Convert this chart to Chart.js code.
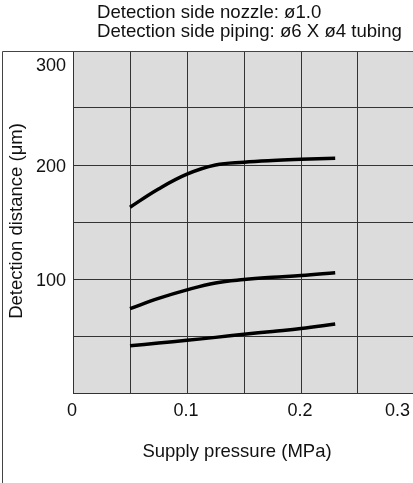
<!DOCTYPE html>
<html>
<head>
<meta charset="utf-8">
<script src="https://cdn.jsdelivr.net/npm/chart.js@4/dist/chart.umd.min.js"></script>
<style>
  html, body { margin: 0; padding: 0; overflow: hidden; background: #fff; }
  #wrap { position: relative; width: 416px; height: 483px; }
</style>
</head>
<body>
<div id="wrap"><canvas id="chart"></canvas></div>
<script>
// supply pressure (MPa) sampled along the curves
const pressure = [0.05, 0.075, 0.1, 0.125, 0.15, 0.175, 0.2, 0.23];
// detection distance (um) for the three curves, top to bottom
const upperCurve = [163, 179, 192, 200, 202.5, 204, 205, 206];
const middleCurve = [74, 83, 90.5, 96.5, 99.5, 101.5, 103, 105.5];
const lowerCurve = [41.5, 43.8, 46.2, 48.8, 51.5, 54, 56.5, 60.5];

const xTickLabels = ['0', '0.1', '0.2', '0.3'];
const yTickLabels = ['100', '200', '300'];
const headerLines = ['Detection side nozzle: \u00f81.0', 'Detection side piping: \u00f86 X \u00f84 tubing'];
const xTitle = 'Supply pressure (MPa)';
const yTitle = 'Detection distance (\u03bcm)';

const FONT = '"Liberation Sans", Arial, sans-serif';
const GRID = '#333';

function toPoints(values) {
    return pressure.map((p, i) => ({ x: p, y: values[i] }));
}

function curve(values) {
    return {
        data: toPoints(values),
        borderColor: '#000',
        borderWidth: 3.5,
        pointRadius: 0,
        fill: false,
        tension: 0.4,
        borderCapStyle: 'butt'
    };
}

// paints the grey plot background, the outer frame and all the text
const framePlugin = {
    id: 'frame',
    beforeDraw(chart) {
        const { ctx, chartArea: a } = chart;
        ctx.save();
        ctx.fillStyle = '#dcdcdc';
        ctx.fillRect(a.left, a.top, a.right - a.left, a.bottom - a.top);
        ctx.restore();
    },
    afterDraw(chart) {
        const { ctx, chartArea: a } = chart;
        const xs = chart.scales.x, ys = chart.scales.y;
        const visibleW = 413;

        ctx.save();
        ctx.strokeStyle = '#444';
        ctx.lineWidth = 1;
        ctx.beginPath();
        ctx.moveTo(2.5, a.top + 0.5);
        ctx.lineTo(chart.width, a.top + 0.5);
        ctx.moveTo(2.5, a.top + 0.5);
        ctx.lineTo(2.5, chart.height);
        ctx.stroke();

        ctx.fillStyle = '#111';
        ctx.textBaseline = 'middle';

        // header
        ctx.font = '18.6px ' + FONT;
        ctx.textAlign = 'left';
        ctx.fillText(headerLines[0], 97, 13);
        ctx.fillText(headerLines[1], 97, 32);

        // y tick labels
        ctx.font = '18px ' + FONT;
        ctx.textAlign = 'right';
        yTickLabels.forEach(t => {
            const py = Math.max(ys.getPixelForValue(Number(t)) + 2, a.top + 15);
            ctx.fillText(t, 66, py);
        });

        // x tick labels, last one pulled inside the window
        ctx.textAlign = 'center';
        xTickLabels.forEach(t => {
            const w = ctx.measureText(t).width;
            const px = Math.min(xs.getPixelForValue(Number(t)) - 1, visibleW - 3 - w / 2);
            ctx.fillText(t, px, 411);
        });

        // axis titles
        ctx.font = '18.5px ' + FONT;
        ctx.fillText(xTitle, 237, 452);
        ctx.translate(17, 221);
        ctx.rotate(-Math.PI / 2);
        ctx.fillText(yTitle, 0, 0);
        ctx.restore();
    }
};

new Chart(document.getElementById('chart'), {
    type: 'line',
    data: {
        datasets: [curve(upperCurve), curve(middleCurve), curve(lowerCurve)]
    },
    options: {
        responsive: true,
        maintainAspectRatio: false,
        animation: false,
        layout: { padding: { top: 51, right: 1, left: 0, bottom: 0 } },
        plugins: {
            legend: { display: false },
            tooltip: { enabled: false }
        },
        scales: {
            x: {
                type: 'linear',
                min: 0,
                max: 0.3,
                ticks: { display: false, stepSize: 0.05 },
                grid: { color: GRID, lineWidth: 1, drawTicks: false },
                border: { color: GRID },
                afterFit(scale) { scale.height = 90; }
            },
            y: {
                min: 0,
                max: 300,
                ticks: { display: false, stepSize: 50 },
                grid: { color: GRID, lineWidth: 1, drawTicks: false },
                border: { color: GRID },
                afterFit(scale) { scale.width = 73; }
            }
        }
    },
    plugins: [framePlugin]
});
</script>
</body>
</html>
